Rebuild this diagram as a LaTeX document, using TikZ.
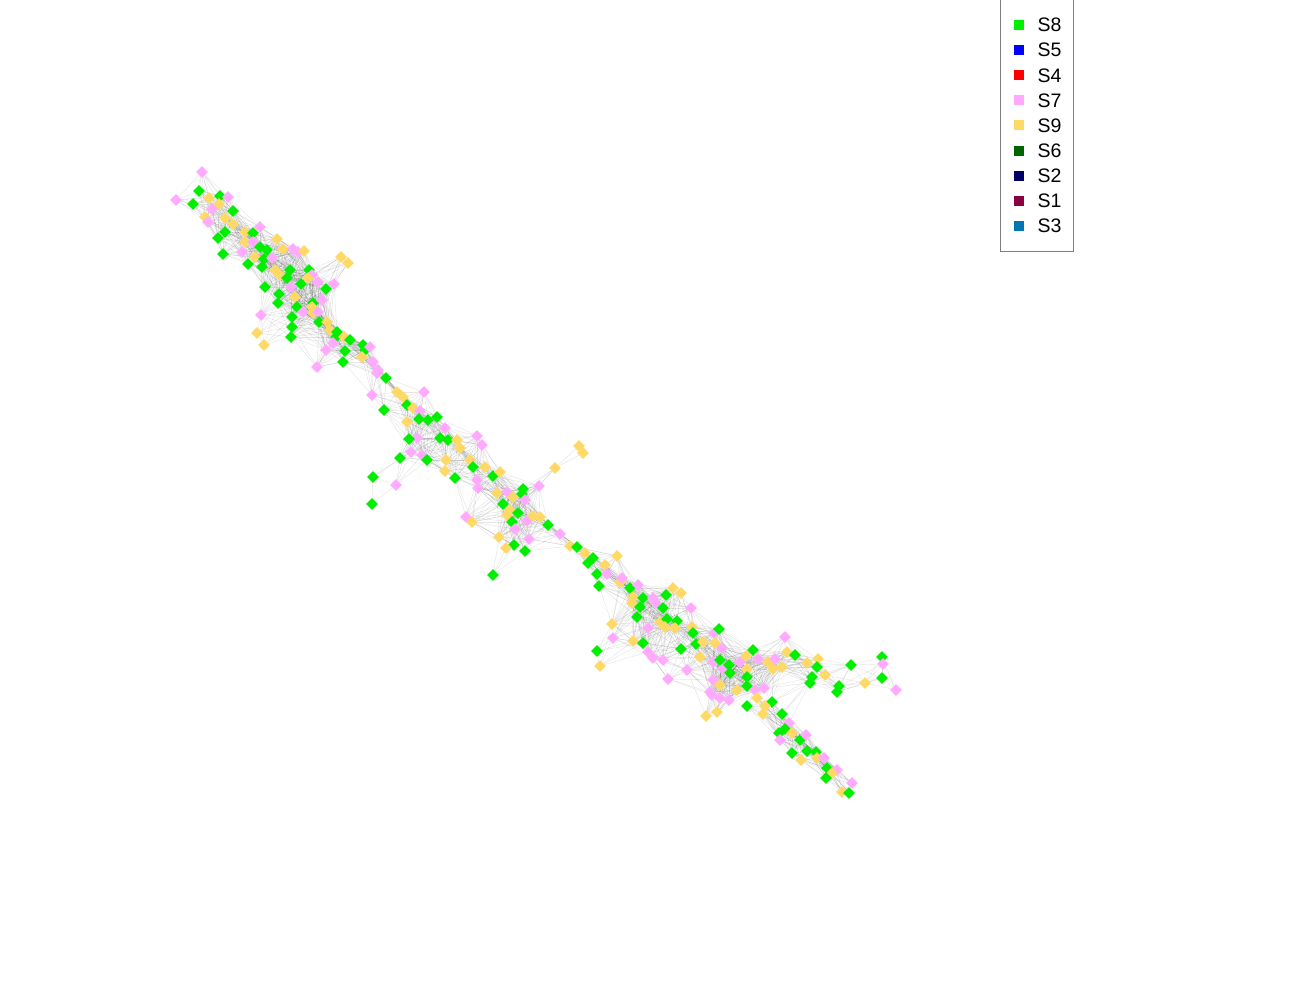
\documentclass[tikz,border=0pt]{standalone}
\usepackage{fontspec}
\setmainfont{Liberation Sans}
\usetikzlibrary{shapes.geometric,backgrounds}
\definecolor{cS8}{HTML}{00EE00}
\definecolor{cS5}{HTML}{0000FF}
\definecolor{cS4}{HTML}{FF0000}
\definecolor{cS7}{HTML}{FFAAFF}
\definecolor{cS9}{HTML}{FFD966}
\definecolor{cS6}{HTML}{006400}
\definecolor{cS2}{HTML}{000066}
\definecolor{cS1}{HTML}{8B003F}
\definecolor{cS3}{HTML}{0077B0}
\tikzset{
 nd/.style={diamond, inner sep=0pt, minimum width=12pt, minimum height=12pt, draw=none},
 ndg/.style={nd, fill=cS8},
 ndp/.style={nd, fill=cS7},
 ndy/.style={nd, fill=cS9},
 lnk/.style={draw=black, draw opacity=0.1, line width=0.45pt},
 legsq/.style={rectangle, inner sep=0pt, minimum size=10pt, draw=none},
 legtx/.style={anchor=west, inner sep=0pt, font=\fontsize{19.5}{22}\selectfont},
 legbox/.style={draw=black!50, line width=1pt, fill=white, inner sep=0pt}
}
\def\nodelist{176/200/p, 202/172/p, 199/191/g, 193/204/g, 209/198/y, 220/196/g, 228/197/p, 219/204/y, 212/209/p, 205/217/y, 208/222/p, 233/211/g, 225/218/y, 233/224/y, 225/232/g, 218/238/g, 245/232/y, 253/233/g, 245/242/y, 253/242/p, 242/252/p, 223/254/g, 260/227/p, 260/247/g, 267/250/g, 255/257/y, 248/264/g, 264/259/g, 277/239/y, 272/258/p, 262/267/g, 283/249/y, 293/249/p, 298/252/p, 304/251/y, 275/270/y, 280/275/y, 290/270/g, 265/287/g, 287/278/g, 279/294/g, 291/287/p, 301/284/g, 309/270/g, 312/275/p, 308/278/y, 318/282/p, 295/297/y, 278/303/g, 261/315/p, 297/307/g, 303/312/p, 292/317/g, 313/303/g, 322/300/p, 312/307/y, 326/289/g, 334/284/p, 341/257/y, 348/263/y, 313/313/y, 318/312/p, 292/327/g, 257/333/y, 264/345/y, 291/337/g, 319/322/g, 327/322/y, 330/330/y, 337/332/g, 336/337/g, 344/337/y, 333/343/p, 326/350/p, 350/340/g, 345/351/g, 343/362/g, 317/367/p, 363/345/g, 365/350/g, 370/347/p, 362/357/y, 373/362/p, 378/370/p, 377/373/p, 386/378/g, 372/395/p, 397/392/y, 403/397/y, 407/405/g, 384/410/g, 424/392/p, 413/408/y, 420/411/p, 419/419/g, 428/420/g, 437/417/g, 407/422/y, 417/438/p, 409/439/g, 445/428/p, 440/438/g, 448/440/g, 457/440/y, 411/452/p, 400/458/g, 422/455/p, 427/460/g, 446/460/y, 460/448/y, 477/436/p, 482/445/p, 445/471/y, 455/478/g, 373/477/g, 396/485/p, 372/504/g, 470/460/y, 473/467/g, 485/467/y, 477/480/p, 493/476/g, 500/472/y, 478/488/p, 497/493/y, 507/492/p, 513/497/y, 466/517/p, 472/522/y, 503/504/g, 510/510/y, 523/489/g, 522/494/g, 525/500/p, 539/486/p, 555/468/y, 579/446/y, 583/453/y, 507/515/y, 518/513/g, 512/522/g, 527/521/p, 533/516/y, 540/517/y, 515/529/p, 499/537/y, 548/525/g, 529/539/p, 514/545/g, 506/548/y, 525/551/g, 493/575/g, 560/534/p, 570/546/y, 577/547/g, 585/553/y, 593/558/g, 588/563/g, 617/556/y, 605/565/y, 597/574/g, 607/574/p, 599/586/g, 620/582/y, 622/578/p, 630/588/g, 638/585/p, 633/597/y, 632/603/y, 643/598/g, 640/607/g, 653/598/p, 656/603/p, 666/595/g, 663/608/g, 673/588/y, 681/593/y, 612/624/y, 637/617/g, 613/638/p, 597/651/g, 600/666/y, 633/641/y, 643/643/g, 648/628/p, 660/622/y, 667/619/g, 665/627/y, 677/621/g, 675/628/y, 691/608/p, 648/652/p, 653/658/p, 663/660/p, 681/649/g, 668/679/p, 687/670/p, 692/627/y, 693/633/g, 696/644/g, 703/642/y, 714/633/p, 719/629/g, 715/643/y, 722/648/p, 700/657/y, 713/662/p, 720/660/g, 723/669/p, 729/665/g, 730/673/g, 713/680/p, 720/685/y, 710/692/p, 712/695/p, 720/698/p, 729/700/p, 706/716/y, 717/712/y, 740/662/p, 746/656/y, 753/650/g, 747/669/y, 758/659/p, 747/677/g, 747/686/g, 737/690/y, 755/690/p, 764/688/p, 768/662/y, 775/659/p, 773/669/y, 782/667/y, 785/637/p, 787/652/y, 795/655/g, 807/663/y, 818/659/y, 817/667/g, 812/677/g, 810/683/g, 825/675/y, 851/665/g, 839/686/g, 837/692/g, 865/683/y, 882/657/g, 883/664/p, 882/678/g, 896/690/p, 757/698/y, 747/706/g, 772/702/g, 765/706/y, 763/714/y, 782/714/g, 789/723/p, 785/729/g, 779/733/g, 792/733/y, 780/740/p, 800/740/g, 806/735/p, 792/753/g, 807/751/g, 816/752/g, 801/760/y, 817/758/y, 824/758/p, 827/768/g, 837/770/p, 832/773/y, 826/778/g, 852/783/p, 842/792/y, 849/793/g}
\begin{document}
\begin{tikzpicture}[x=1pt,y=-1pt]
\useasboundingbox (0,0) rectangle (1300,1000);
% nodes
\foreach \px/\py/\pc [count=\i] in \nodelist {
  \node[nd\pc] (n\i) at (\px,\py) {};
  \expandafter\xdef\csname nx\i\endcsname{\px}
  \expandafter\xdef\csname ny\i\endcsname{\py}
  \xdef\nn{\i}
}
% connectors, behind the nodes
\begin{scope}[on background layer]
\foreach \i in {1,...,\nn}{
  \foreach \j in {1,...,22}{
    \pgfmathtruncatemacro\k{\i+\j}
    \ifnum\k>\nn\relax\else
      \edef\xa{\csname nx\i\endcsname}\edef\ya{\csname ny\i\endcsname}
      \edef\xb{\csname nx\k\endcsname}\edef\yb{\csname ny\k\endcsname}
      \pgfmathsetmacro\dd{veclen(\xa-\xb,\ya-\yb)}
      \ifdim\dd pt<50pt\relax \draw[lnk] (n\i) -- (n\k);\fi
    \fi
  }
}
\end{scope}
% legend
\node[legbox, anchor=north west, minimum width=73pt, minimum height=256pt] (leg) at (1000,-5) {};
\foreach \lab/\col [count=\i] in {S8/cS8, S5/cS5, S4/cS4, S7/cS7, S9/cS9, S6/cS6, S2/cS2, S1/cS1, S3/cS3} {
  \node[legsq, fill=\col] (lq\i) at (1019, 25.1*\i) {};
  \node[legtx] (lt\i) at (1037.5, 25.1*\i) {\lab};
}
\end{tikzpicture}
\end{document}
